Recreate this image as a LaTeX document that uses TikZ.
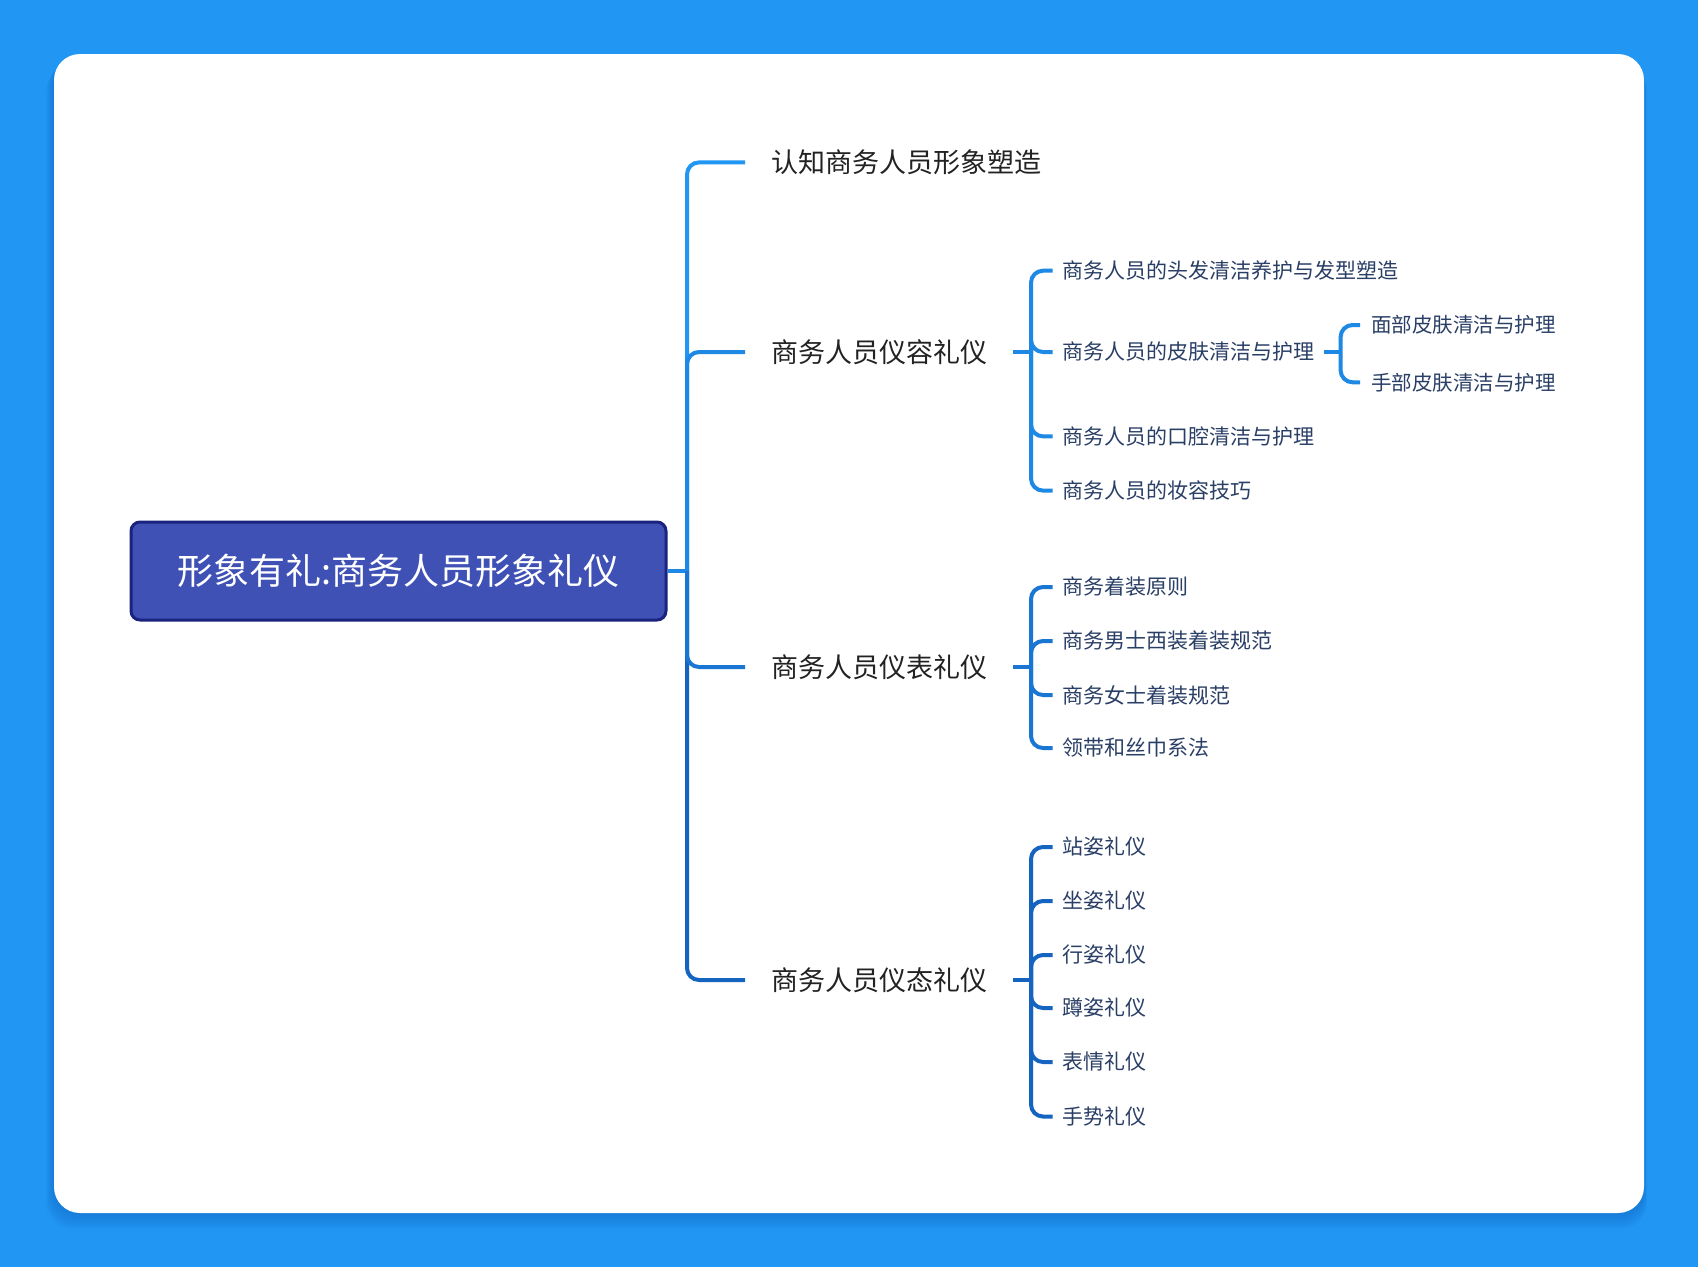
\documentclass[tikz,border=0pt]{standalone}
\usepackage{fontspec}
\newfontfamily\cjk{Noto Sans CJK SC}
\definecolor{bgblue}{HTML}{2196F3}
\definecolor{shadowblue}{HTML}{1565C0}
\definecolor{rootfill}{HTML}{3F51B5}
\definecolor{rootdraw}{HTML}{1A237E}
\definecolor{bA}{HTML}{2196F3}
\definecolor{bB}{HTML}{1E88E5}
\definecolor{bC}{HTML}{1976D2}
\definecolor{bD}{HTML}{1565C0}
\definecolor{txtA}{HTML}{222222}
\definecolor{txtB}{HTML}{2A3F66}
\tikzset{
  rootbox/.style={draw=rootdraw, line width=3pt, fill=rootfill, rounded corners=9pt,
    minimum width=535pt, minimum height=98pt, inner sep=0pt, text=white,
    font=\cjk\fontsize{36}{40}\selectfont},
  lvlone/.style={anchor=west, inner xsep=26pt, inner ysep=2pt, text=txtA,
    font=\cjk\fontsize{27}{30}\selectfont},
  lvltwo/.style={anchor=west, inner xsep=9.5pt, inner ysep=2pt, text=txtB,
    font=\cjk\fontsize{21}{25}\selectfont},
  lvlthree/.style={anchor=west, inner xsep=11pt, inner ysep=2pt, text=txtB,
    font=\cjk\fontsize{20.5}{24}\selectfont},
  conn/.style={line width=4pt, rounded corners=12pt},
}
\begin{document}
\begin{tikzpicture}[x=1pt,y=-1pt]
\useasboundingbox (0,0) rectangle (1698,1267);
\fill[bgblue] (0,0) rectangle (1698,1267);
% card shadow
\foreach \i in {1,...,10}{
  \fill[shadowblue, opacity=0.05, rounded corners=26pt]
    (54-\i*0.8,54+\i*1.2) rectangle (1644+\i*0.3,1213+\i*1.6);
}
\fill[white, rounded corners=26pt] (54,54) rectangle (1644,1213);

% root
\node[rootbox] (root) at (398.5,571) {形象有礼:商务人员形象礼仪};
\coordinate (j) at (687,571);

% level 1
\node[lvlone] (a) at (745,162.4) {认知商务人员形象塑造};
\node[lvlone] (b) at (745,352) {商务人员仪容礼仪};
\node[lvlone] (c) at (745,667) {商务人员仪表礼仪};
\node[lvlone] (d) at (745,980) {商务人员仪态礼仪};

% level 2 under b
\node[lvltwo] (b1) at (1052.6,270.7) {商务人员的头发清洁养护与发型塑造};
\node[lvltwo] (b2) at (1052.6,352) {商务人员的皮肤清洁与护理};
\node[lvltwo] (b3) at (1052.6,436.4) {商务人员的口腔清洁与护理};
\node[lvltwo] (b4) at (1052.6,490.6) {商务人员的妆容技巧};
% level 3 under b2
\node[lvlthree] (b21) at (1360,325) {面部皮肤清洁与护理};
\node[lvlthree] (b22) at (1360,382.3) {手部皮肤清洁与护理};

% level 2 under c
\node[lvltwo] (c1) at (1052.6,587) {商务着装原则};
\node[lvltwo] (c2) at (1052.6,641) {商务男士西装着装规范};
\node[lvltwo] (c3) at (1052.6,695) {商务女士着装规范};
\node[lvltwo] (c4) at (1052.6,748) {领带和丝巾系法};

% level 2 under d
\node[lvltwo] (d1) at (1052.6,847) {站姿礼仪};
\node[lvltwo] (d2) at (1052.6,901) {坐姿礼仪};
\node[lvltwo] (d3) at (1052.6,955) {行姿礼仪};
\node[lvltwo] (d4) at (1052.6,1008) {蹲姿礼仪};
\node[lvltwo] (d5) at (1052.6,1062) {表情礼仪};
\node[lvltwo] (d6) at (1052.6,1116.5) {手势礼仪};

% trunk connectors
\draw[conn, bB] (root.east) -- (j);
\draw[conn, bA] (j) |- (a.west);
\draw[conn, bB] (j) |- (b.west);
\draw[conn, bD] (j) |- (d.west);
\draw[conn, bC] (j) |- (c.west);

% b children
\coordinate (jb) at (1031,352);
\draw[conn, bB] (b.east) -- (jb);
\foreach \n in {b1,b2,b3,b4}{ \draw[conn, bB] (jb) |- (\n.west); }
% b2 children
\coordinate (jb2) at (1340.6,352);
\draw[conn, bB] (b2.east) -- (jb2);
\foreach \n in {b21,b22}{ \draw[conn, bB] (jb2) |- (\n.west); }

% c children
\coordinate (jc) at (1031,667);
\draw[conn, bC] (c.east) -- (jc);
\foreach \n in {c1,c2,c3,c4}{ \draw[conn, bC] (jc) |- (\n.west); }

% d children
\coordinate (jd) at (1031,980);
\draw[conn, bD] (d.east) -- (jd);
\foreach \n in {d1,d2,d3,d4,d5,d6}{ \draw[conn, bD] (jd) |- (\n.west); }
\end{tikzpicture}
\end{document}
